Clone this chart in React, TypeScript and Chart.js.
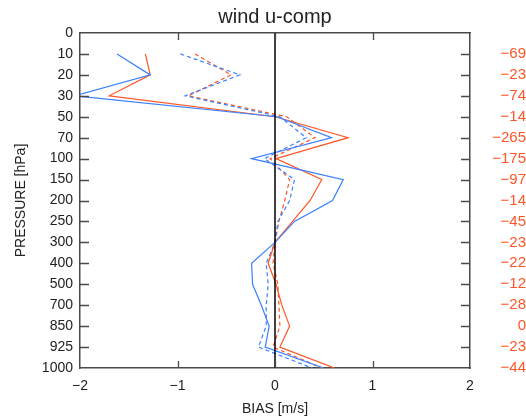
import React, { useEffect, useRef } from 'react';
import { Chart, registerables } from 'chart.js';

Chart.register(...registerables);

// Pressure levels (top to bottom), index 0..16
const levels = ['0', '10', '20', '30', '50', '70', '100', '150', '200', '250', '300', '400', '500', '700', '850', '925', '1000'];
// Right-hand labels for levels 10..1000
const rightLabels = ['-69', '-23', '-74', '-14', '-265', '-175', '-97', '-14', '-45', '-23', '-22', '-12', '-28', '0', '-23', '-44'];
// x-axis ticks
const xTickValues = [-2, -1, 0, 1, 2];

// Bias values for levels 10..1000
const blueSolid = [-1.62, -1.28, -2.05, 0.02, 0.58, -0.24, 0.70, 0.59, 0.20, 0.00, -0.24, -0.23, -0.14, -0.06, -0.10, 0.50];
const redSolid = [-1.33, -1.28, -1.70, 0.00, 0.75, 0.01, 0.48, 0.36, 0.18, 0.00, -0.07, 0.01, 0.07, 0.15, 0.05, 0.61];
const blueDashed = [-0.97, -0.36, -0.92, 0.05, 0.32, -0.11, 0.20, 0.15, 0.03, 0.00, -0.09, -0.07, -0.09, -0.09, -0.17, 0.38];
const redDashed = [-0.82, -0.45, -0.89, 0.12, 0.41, -0.05, 0.15, 0.10, 0.04, 0.00, -0.02, 0.03, 0.04, 0.05, -0.02, 0.48];

const BLUE = '#3a80ff';
const RED = '#ff5526';
const FRAME = '#4a4a4a';
const FONT = "'Liberation Sans', Arial, sans-serif";

const minus = (s: string) => s.replace('-', '\u2212');
const toPoints = (vals: number[]) => vals.map((v, i) => ({ x: v, y: i + 1 }));

const framePlugin = {
  id: 'frameTicks',
  afterDatasetsDraw(chart: any) {
    const { ctx, chartArea, scales } = chart;
    const { left, right, top, bottom } = chartArea;
    ctx.save();
    // zero line
    const x0 = scales.x.getPixelForValue(0);
    ctx.strokeStyle = '#000';
    ctx.lineWidth = 1.5;
    ctx.beginPath();
    ctx.moveTo(x0, top);
    ctx.lineTo(x0, bottom);
    ctx.stroke();
    // inward ticks
    ctx.strokeStyle = FRAME;
    ctx.lineWidth = 1.3;
    ctx.beginPath();
    for (let i = 1; i < levels.length - 1; i++) {
      const y = Math.round(scales.y.getPixelForValue(i)) + 0.5;
      ctx.moveTo(left, y);
      ctx.lineTo(left + 9, y);
      ctx.moveTo(right - 9, y);
      ctx.lineTo(right, y);
    }
    for (const v of xTickValues.slice(1, -1)) {
      const x = Math.round(scales.x.getPixelForValue(v)) + 0.5;
      ctx.moveTo(x, top);
      ctx.lineTo(x, top + 7);
      ctx.moveTo(x, bottom - 7);
      ctx.lineTo(x, bottom);
    }
    ctx.stroke();
    ctx.restore();
  },
};

export default function App() {
  const ref = useRef<HTMLCanvasElement | null>(null);

  useEffect(() => {
    if (!ref.current) return;
    const mk = (label: string, vals: number[], color: string, dashed: boolean) => ({
      label,
      data: toPoints(vals),
      borderColor: color,
      backgroundColor: color,
      borderWidth: 1.2,
      borderDash: dashed ? [4, 3] : [],
      pointRadius: 0,
      tension: 0,
      fill: false,
      xAxisID: 'x',
      yAxisID: 'y',
    });
    const chart = new Chart(ref.current, {
      type: 'line',
      data: {
        datasets: [
          mk('blue solid', blueSolid, BLUE, false),
          mk('red solid', redSolid, RED, false),
          mk('blue dashed', blueDashed, BLUE, true),
          mk('red dashed', redDashed, RED, true),
        ],
      },
      options: {
        animation: false,
        responsive: true,
        maintainAspectRatio: false,
        layout: { padding: 0 },
        plugins: {
          legend: { display: false },
          tooltip: { enabled: false },
          title: { display: false },
        },
        scales: {
          x: {
            type: 'linear',
            position: 'bottom',
            min: -2,
            max: 2,
            afterFit: (s: any) => { s.height = 50; },
            afterBuildTicks: (s: any) => { s.ticks = xTickValues.map((v) => ({ value: v })); },
            grid: { display: false, drawTicks: false },
            border: { display: true, color: FRAME, width: 1.5 },
            ticks: {
              padding: 10,
              color: '#222',
              font: { family: FONT, size: 14 },
              callback: (v: any) => minus(String(v)),
            },
            title: {
              display: true,
              text: 'BIAS [m/s]',
              color: '#222',
              font: { family: FONT, size: 14 },
              padding: { top: 5, bottom: 0 },
            },
          },
          x2: {
            type: 'linear',
            position: 'top',
            min: -2,
            max: 2,
            afterFit: (s: any) => { s.height = 33; },
            grid: { display: false, drawTicks: false },
            border: { display: true, color: FRAME, width: 1.5 },
            ticks: { display: false },
            title: {
              display: true,
              text: 'wind u-comp',
              color: '#222',
              font: { family: FONT, size: 20 },
              padding: { top: 5, bottom: 0 },
            },
          },
          y: {
            type: 'linear',
            position: 'left',
            min: 0,
            max: levels.length - 1,
            reverse: true,
            afterFit: (s: any) => { s.width = 80; },
            afterBuildTicks: (s: any) => { s.ticks = levels.map((_, i) => ({ value: i })); },
            grid: { display: false, drawTicks: false },
            border: { display: true, color: FRAME, width: 1.5 },
            ticks: {
              autoSkip: false,
              padding: 7,
              color: '#222',
              font: { family: FONT, size: 14 },
              callback: (v: any) => levels[v] ?? '',
            },
            title: {
              display: true,
              text: 'PRESSURE [hPa]',
              color: '#222',
              font: { family: FONT, size: 14 },
              padding: { top: 13, bottom: 0 },
            },
          },
          y2: {
            type: 'linear',
            position: 'right',
            min: 0,
            max: levels.length - 1,
            reverse: true,
            afterFit: (s: any) => { s.width = 56; },
            afterBuildTicks: (s: any) => { s.ticks = levels.map((_, i) => ({ value: i })); },
            grid: { display: false, drawTicks: false },
            border: { display: true, color: FRAME, width: 1.5 },
            ticks: {
              autoSkip: false,
              crossAlign: 'far',
              color: RED,
              font: { family: FONT, size: 15 },
              callback: (v: any) => (v === 0 ? '' : minus(rightLabels[v - 1] ?? '')),
            },
          },
        },
      } as any,
      plugins: [framePlugin],
    });
    return () => chart.destroy();
  }, []);

  return (
    <div style={{ position: 'fixed', left: 0, top: 0, width: 526, height: 418, background: '#fff' }}>
      <canvas ref={ref} />
    </div>
  );
}
